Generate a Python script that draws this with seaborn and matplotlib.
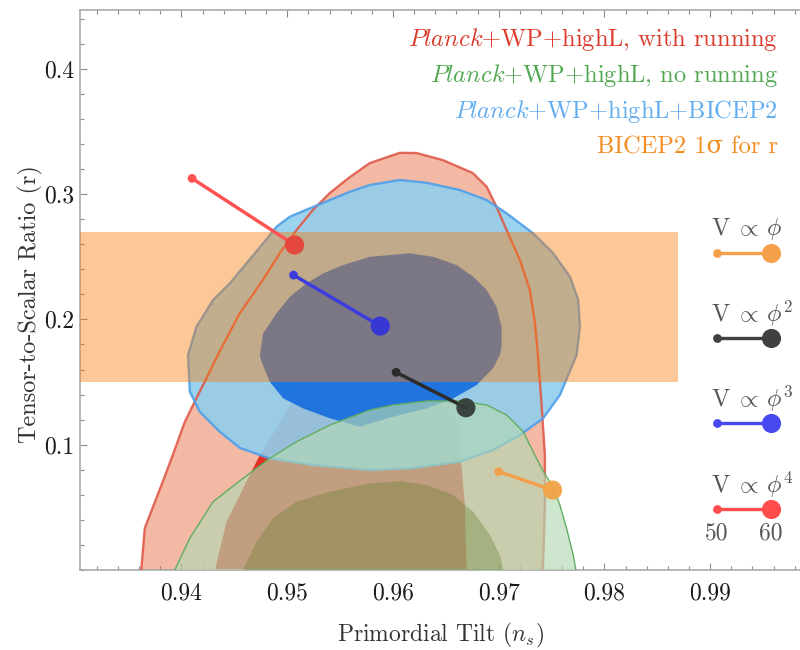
import numpy as np
import pandas as pd
import matplotlib
matplotlib.use("Agg")
import matplotlib.pyplot as plt
from matplotlib.ticker import MultipleLocator
import seaborn as sns

# ---------------- data ----------------
# Planck+WP+highL with running, 95% (outer) contour, open at r=0
red95_ns = [0.93620, 0.93653, 0.93811, 0.93918, 0.94031, 0.94142, 0.94237, 0.94343,
            0.94552, 0.94769, 0.94930, 0.95088, 0.95242, 0.95403, 0.95592, 0.95781,
            0.96065, 0.96223, 0.96472, 0.96756, 0.96886, 0.96980, 0.97075, 0.97201,
            0.97295, 0.97343, 0.97371, 0.97406, 0.97437, 0.97437, 0.97418]
red95_r = [0.0, 0.0335, 0.0678, 0.0918, 0.1181, 0.1373, 0.1532, 0.1716,
           0.2051, 0.2314, 0.2530, 0.2713, 0.2873, 0.3009, 0.3136, 0.3248,
           0.3330, 0.3328, 0.3272, 0.3168, 0.3059, 0.2899, 0.2713, 0.2474,
           0.2235, 0.1971, 0.1716, 0.1317, 0.0918, 0.0519, 0.0]
# with running, 68% contour
red68_ns = [0.94317, 0.94426, 0.94583, 0.94741, 0.94899, 0.95025, 0.95183, 0.95340,
            0.95498, 0.95687, 0.95940, 0.96160, 0.96318, 0.96472, 0.96567, 0.96614,
            0.96652, 0.96680, 0.96696]
red68_r = [0.0, 0.0385, 0.0652, 0.0918, 0.1131, 0.1317, 0.1503, 0.1662,
           0.1772, 0.1820, 0.1844, 0.1812, 0.1732, 0.1556, 0.1341, 0.1117,
           0.0798, 0.0519, 0.0]
# Planck+WP+highL no running, 95%
grn95_ns = [0.93937, 0.94079, 0.94299, 0.94583, 0.94835, 0.95088, 0.95403, 0.95781,
            0.96002, 0.96318, 0.96633, 0.96886, 0.97075, 0.97232, 0.97326, 0.97406,
            0.97501, 0.97579, 0.97642, 0.97705, 0.97730]
grn95_r = [0.0, 0.0255, 0.0545, 0.0732, 0.0891, 0.1024, 0.1157, 0.1277,
           0.1317, 0.1349, 0.1349, 0.1317, 0.1237, 0.1104, 0.0944, 0.0812,
           0.0678, 0.0519, 0.0333, 0.0120, 0.0]
# no running, 68%
grn68_ns = [0.94583, 0.94710, 0.94867, 0.95088, 0.95403, 0.95781, 0.96065, 0.96318,
            0.96570, 0.96759, 0.96917, 0.97011, 0.97043]
grn68_r = [0.0, 0.0226, 0.0413, 0.0545, 0.0625, 0.0692, 0.0710, 0.0678,
           0.0599, 0.0465, 0.0279, 0.0120, 0.0]
# Planck+WP+highL+BICEP2, 95% (closed)
blu95_ns = [0.94062, 0.94142, 0.94299, 0.94457, 0.94615, 0.94772, 0.94899, 0.95025,
            0.95214, 0.95403, 0.95592, 0.95781, 0.96065, 0.96318, 0.96633, 0.96886,
            0.97075, 0.97326, 0.97516, 0.97674, 0.97752, 0.97768, 0.97737, 0.97579,
            0.97421, 0.97201, 0.96948, 0.96633, 0.96160, 0.95781, 0.95242, 0.94835,
            0.94552, 0.94362, 0.94173, 0.94079]
blu95_r = [0.1716, 0.1942, 0.2155, 0.2288, 0.2448, 0.2607, 0.2740, 0.2820,
           0.2887, 0.2953, 0.3019, 0.3073, 0.3113, 0.3091, 0.3033, 0.2953,
           0.2847, 0.2687, 0.2528, 0.2341, 0.2155, 0.1942, 0.1716, 0.1397,
           0.1211, 0.1077, 0.0958, 0.0864, 0.0812, 0.0798, 0.0838, 0.0891,
           0.0974, 0.1104, 0.1263, 0.1423]
# +BICEP2, 68% (closed)
blu68_ns = [0.94741, 0.94772, 0.94899, 0.95025, 0.95183, 0.95340, 0.95529, 0.95781,
            0.96160, 0.96380, 0.96602, 0.96759, 0.96886, 0.96980, 0.97027, 0.97027,
            0.97011, 0.96948, 0.96791, 0.96570, 0.96318, 0.96002, 0.95687, 0.95403,
            0.95150, 0.94961, 0.94835, 0.94757]
blu68_r = [0.1716, 0.1889, 0.2049, 0.2181, 0.2288, 0.2368, 0.2434, 0.2500,
           0.2528, 0.2500, 0.2434, 0.2341, 0.2235, 0.2101, 0.1942, 0.1782,
           0.1716, 0.1610, 0.1476, 0.1370, 0.1290, 0.1223, 0.1144, 0.1211,
           0.1290, 0.1370, 0.1503, 0.1662]
# BICEP2 1-sigma band for r
band_r = [0.15, 0.27]
band_ns_max = 0.987

# chaotic inflation predictions, N = 50 and N = 60
models = ["phi4", "phi3", "phi2", "phi1"]
ns_N50 = [0.9410, 0.9506, 0.9603, 0.9700]
r_N50 = [0.3126, 0.2354, 0.1578, 0.0785]
ns_N60 = [0.9507, 0.9588, 0.9669, 0.9751]
r_N60 = [0.2594, 0.1947, 0.1295, 0.0638]
efolds = [50, 60]

model_labels = [r"V$\;\propto\,\phi$", r"V$\;\propto\,\phi^2$",
                r"V$\;\propto\,\phi^3$", r"V$\;\propto\,\phi^4$"]
legend_models = ["phi1", "phi2", "phi3", "phi4"]

dataset_labels = [r"$\mathit{Planck}$+WP+highL, with running",
                  r"$\mathit{Planck}$+WP+highL, no running",
                  r"$\mathit{Planck}$+WP+highL+BICEP2",
                  "BICEP2 1σ for r"]

xticks = [0.94, 0.95, 0.96, 0.97, 0.98, 0.99]
xtick_labels = ["0.94", "0.95", "0.96", "0.97", "0.98", "0.99"]
yticks = [0.1, 0.2, 0.3, 0.4]
ytick_labels = ["0.1", "0.2", "0.3", "0.4"]

# ---------------- style ----------------
sns.set_theme(style="ticks")
plt.rcParams["font.family"] = ["cmr10", "DejaVu Serif"]
plt.rcParams["mathtext.fontset"] = "cm"
plt.rcParams["axes.formatter.use_mathtext"] = True
plt.rcParams["axes.unicode_minus"] = False

model_colors = {"phi4": "#ff5252", "phi3": "#3c3cde", "phi2": "#2c2c2c", "phi1": "#f3a04c"}
big_colors = {"phi4": "#e6433a", "phi3": "#3434d8", "phi2": "#343c38", "phi1": "#f2a446"}
legend_colors = {"phi4": "#ff4c4c", "phi3": "#4848f0", "phi2": "#404040", "phi1": "#f5a04a"}

fig = plt.figure(figsize=(8, 6.5), dpi=100)
ax = fig.add_axes([0.1, 0.1231, 0.9, 0.8615])
x0, x1 = 0.9304, 0.9985
ax.set_xlim(x0, x1)
ax.set_ylim(0, 0.447)

# contours
ax.fill(red95_ns, red95_r, color="#e65a2a", alpha=0.42, lw=0, zorder=1)
ax.fill(red68_ns, red68_r, color="#de2516", alpha=0.9, lw=0, zorder=2)
ax.fill(blu95_ns, blu95_r, color="#90cfee", alpha=0.9, lw=0, zorder=3)
ax.fill(blu68_ns, blu68_r, color="#146cdf", alpha=0.9, lw=0, zorder=4)
ax.plot(red95_ns, red95_r, color="#e05a4a", lw=1.7, alpha=0.9, zorder=5)
ax.plot(blu95_ns + blu95_ns[:1], blu95_r + blu95_r[:1], color="#4f9fea", lw=1.7,
        alpha=0.9, zorder=5)
ax.fill(grn95_ns, grn95_r, color="#b2d9b2", alpha=0.65, lw=0, zorder=6)
ax.fill(grn68_ns, grn68_r, color="#647d2d", alpha=0.35, lw=0, zorder=7)
ax.plot(grn95_ns, grn95_r, color="#62ad62", lw=1.0, zorder=8)

# BICEP2 band
ax.fill_between([x0, band_ns_max], band_r[0], band_r[1], color="#f87c0a",
                alpha=0.42, lw=0, zorder=9)

# model predictions via seaborn
rows = []
for m, a, b, c, d in zip(models, ns_N50, r_N50, ns_N60, r_N60):
    rows.append(dict(model=m, N=efolds[0], ns=a, r=b))
    rows.append(dict(model=m, N=efolds[1], ns=c, r=d))
df = pd.DataFrame(rows)
sns.lineplot(data=df, x="ns", y="r", hue="model", palette=model_colors,
             units="model", estimator=None, sort=False, lw=2.5, legend=False,
             ax=ax, zorder=10)
small = df[df.N == efolds[0]]
big = df[df.N == efolds[1]]
sns.scatterplot(data=small, x="ns", y="r", hue="model", palette=model_colors,
                s=40, linewidth=0, legend=False, ax=ax, zorder=11)
sns.scatterplot(data=big, x="ns", y="r", hue="model", palette=big_colors,
                s=190, linewidth=0, alpha=0.95, legend=False, ax=ax, zorder=11)

# dataset labels (top right)
txt_colors = ["#dc3a2c", "#52a852", "#62aef0", "#f58c22"]
for i, (lab, c) in enumerate(zip(dataset_labels, txt_colors)):
    ax.text(0.9694, 0.948 - i * 0.0645, lab, color=c, fontsize=17.6,
            ha="right", va="center", transform=ax.transAxes, zorder=12)

# model legend (right)
lx0, lx1 = 0.8847, 0.9597
line_y = [0.566, 0.414, 0.2625, 0.109]
for m, lab, yy in zip(legend_models, model_labels, line_y):
    col = legend_colors[m]
    ax.text(0.876, yy + 0.043, lab, color="#555555", fontsize=17.5,
            ha="left", va="center", transform=ax.transAxes, zorder=12)
    ax.plot([lx0, lx1], [yy, yy], color=col, lw=2.4, transform=ax.transAxes,
            clip_on=False, zorder=12)
    ax.scatter([lx0], [yy], s=40, color=col, lw=0, transform=ax.transAxes,
               clip_on=False, zorder=13)
    ax.scatter([lx1], [yy], s=190, color=col, lw=0, transform=ax.transAxes,
               clip_on=False, zorder=13)
ax.text(lx0, 0.066, str(efolds[0]), color="#555555", fontsize=17, ha="center",
        va="center", transform=ax.transAxes)
ax.text(lx1, 0.066, str(efolds[1]), color="#555555", fontsize=17, ha="center",
        va="center", transform=ax.transAxes)

# axes styling
ax.set_xticks(xticks)
ax.set_xticklabels(xtick_labels)
ax.set_yticks(yticks)
ax.set_yticklabels(ytick_labels)
ax.xaxis.set_minor_locator(MultipleLocator(0.002))
ax.yaxis.set_minor_locator(MultipleLocator(0.02))
ax.tick_params(which="both", direction="in", top=True, right=False,
               color="#8c8c8c", width=0.8, labelsize=17, labelcolor="#1a1a1a")
ax.tick_params(which="major", length=5)
ax.tick_params(which="minor", length=3)
ax.tick_params(axis="x", pad=9)
ax.tick_params(axis="y", pad=4)
for s in ["left", "bottom", "top"]:
    ax.spines[s].set_color("#aaaaaa")
    ax.spines[s].set_linewidth(1.2)
ax.spines["right"].set_visible(False)
ax.set_xlabel(r"Primordial Tilt ($n_s$)", fontsize=17, color="#333333", labelpad=12)
ax.set_ylabel("Tensor-to-Scalar Ratio (r)", fontsize=17.5, color="#333333", labelpad=8)
ax.yaxis.set_label_coords(-0.052, 0.475)

fig.savefig("out.png", dpi=100)
